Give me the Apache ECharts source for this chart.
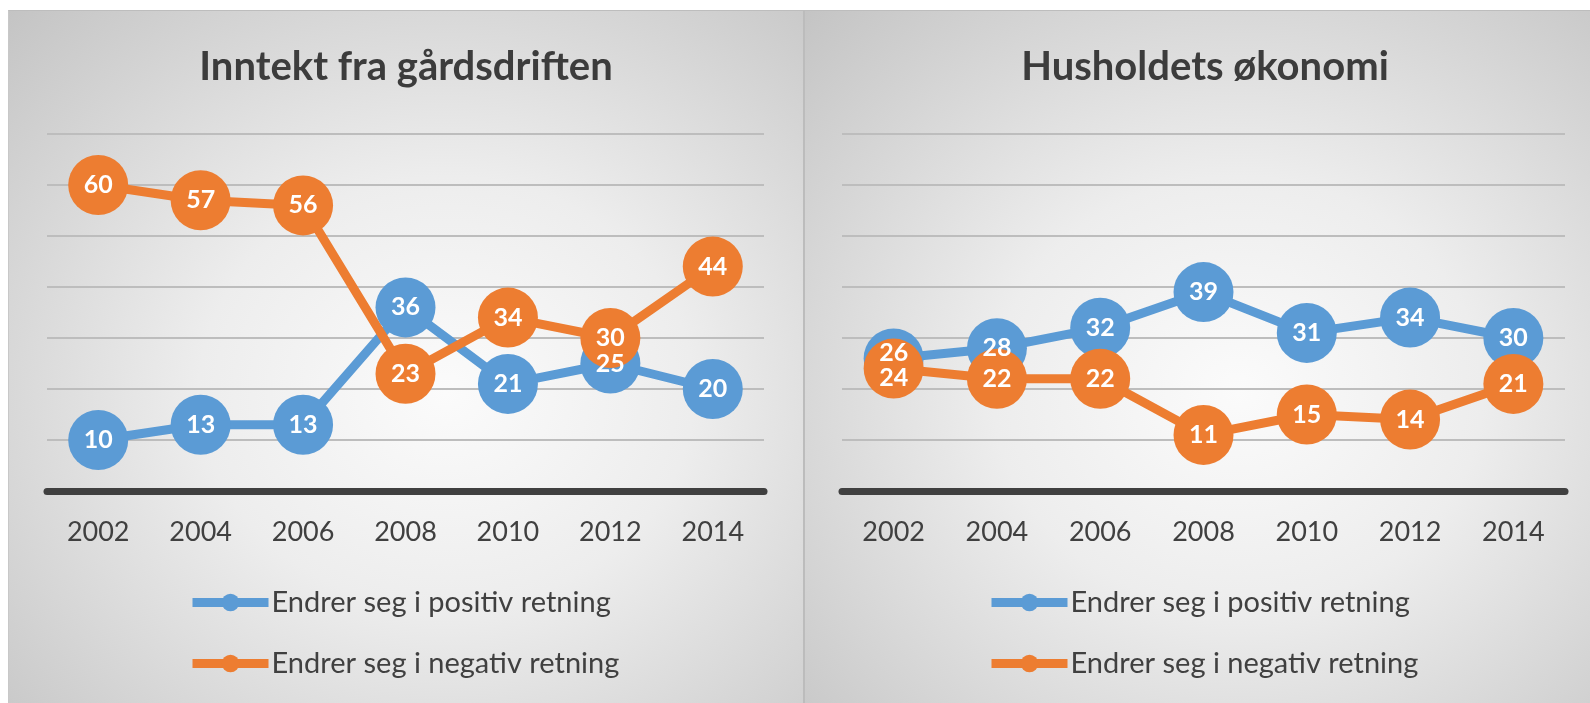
<!DOCTYPE html>
<html>
<head>
<meta charset="utf-8">
<script src="https://cdn.jsdelivr.net/npm/echarts@6/dist/echarts.min.js"></script>
<style>
  html, body { margin: 0; padding: 0; background: #fff; }
  #wrap { position: relative; width: 1590px; height: 703px; overflow: hidden; }
  .panel { position: absolute; top: 10px; height: 693px;
    background: radial-gradient(ellipse farthest-corner at 55% 55%, #fbfbfb 0%, #ededed 40%, #c4c4c4 100%);
    border-top: 1px solid #bdbdbd; }
  #p1 { left: 8px; width: 795px; border-left: 1px solid #c8c8c8; }
  #p2 { left: 803px; width: 787px; border-left: 2px solid #bcbcbc; }
  #cv { position: absolute; left: 0; top: 0; width: 1590px; height: 703px; }
</style>
</head>
<body>
<div id="wrap">
  <div class="panel" id="p1"></div>
  <div class="panel" id="p2"></div>
  <div id="cv"></div>
</div>
<script>
var years = ['2002', '2004', '2006', '2008', '2010', '2012', '2014'];
var names = ['Endrer seg i positiv retning', 'Endrer seg i negativ retning'];
var titles = ['Inntekt fra gårdsdriften', 'Husholdets økonomi'];

// Inntekt fra gårdsdriften
var inntektPos = [10, 13, 13, 36, 21, 25, 20];
var inntektNeg = [60, 57, 56, 23, 34, 30, 44];
// Husholdets økonomi
var husPos = [26, 28, 32, 39, 31, 34, 30];
var husNeg = [24, 22, 22, 11, 15, 14, 21];

var blue = '#5b9bd5';
var orange = '#ed7d31';
var fontName = 'Lato';

var myChart = echarts.init(document.getElementById('cv'), null, { renderer: 'canvas' });

function xAxisFor(i) {
  return {
    type: 'category',
    gridIndex: i,
    data: years,
    boundaryGap: true,
    axisLine: { show: true, lineStyle: { color: '#404040', width: 7 } },
    axisTick: { show: false },
    axisLabel: { fontSize: 27, color: '#404040', fontFamily: fontName, margin: 28 }
  };
}

function yAxisFor(i) {
  return {
    type: 'value',
    gridIndex: i,
    min: 0,
    max: 70,
    interval: 10,
    axisLine: { show: false },
    axisTick: { show: false },
    axisLabel: { show: false },
    splitLine: { lineStyle: { color: '#bdbdbd', width: 2 } }
  };
}

function lineSeries(name, data, color, i, offsets) {
  return {
    name: name,
    type: 'line',
    xAxisIndex: i,
    yAxisIndex: i,
    data: data.map(function (v, k) {
      var item = { value: v };
      if (offsets && offsets[k]) item.label = { offset: offsets[k] };
      return item;
    }),
    symbol: 'circle',
    symbolSize: 60,
    color: color,
    lineStyle: { color: color, width: 9 },
    itemStyle: { color: color },
    label: {
      show: true,
      position: 'inside',
      color: '#fff',
      fontWeight: 'bold',
      fontSize: 25,
      fontFamily: fontName
    },
    emphasis: { disabled: true }
  };
}

function legendFor(x) {
  return {
    data: names, orient: 'vertical', left: x, top: 588, padding: 0,
    itemWidth: 76, itemHeight: 22, itemGap: 32,
    selectedMode: false,
    lineStyle: { width: 9 },
    textStyle: { fontSize: 29, color: '#404040', lineHeight: 29, fontFamily: fontName, padding: [0, 0, 0, -2] }
  };
}

var option = {
  animation: false,
  textStyle: { fontFamily: fontName },
  title: [
    { text: titles[0], left: 401, top: 42, textAlign: 'center',
      textStyle: { fontSize: 40, fontWeight: 'bold', color: '#3c3c3c', fontFamily: fontName } },
    { text: titles[1], left: 1200, top: 42, textAlign: 'center',
      textStyle: { fontSize: 40, fontWeight: 'bold', color: '#3c3c3c', fontFamily: fontName } }
  ],
  legend: [legendFor(188), legendFor(987)],
  grid: [
    { left: 47, right: 826, top: 134, bottom: 212 },
    { left: 842, right: 25, top: 134, bottom: 212 }
  ],
  xAxis: [xAxisFor(0), xAxisFor(1)],
  yAxis: [yAxisFor(0), yAxisFor(1)],
  series: [
    lineSeries(names[0], inntektPos, blue, 0),
    lineSeries(names[1], inntektNeg, orange, 0),
    lineSeries(names[0], husPos, blue, 1, [[0, -5]]),
    lineSeries(names[1], husNeg, orange, 1, [[0, 9]])
  ]
};

myChart.setOption(option);
</script>
</body>
</html>
